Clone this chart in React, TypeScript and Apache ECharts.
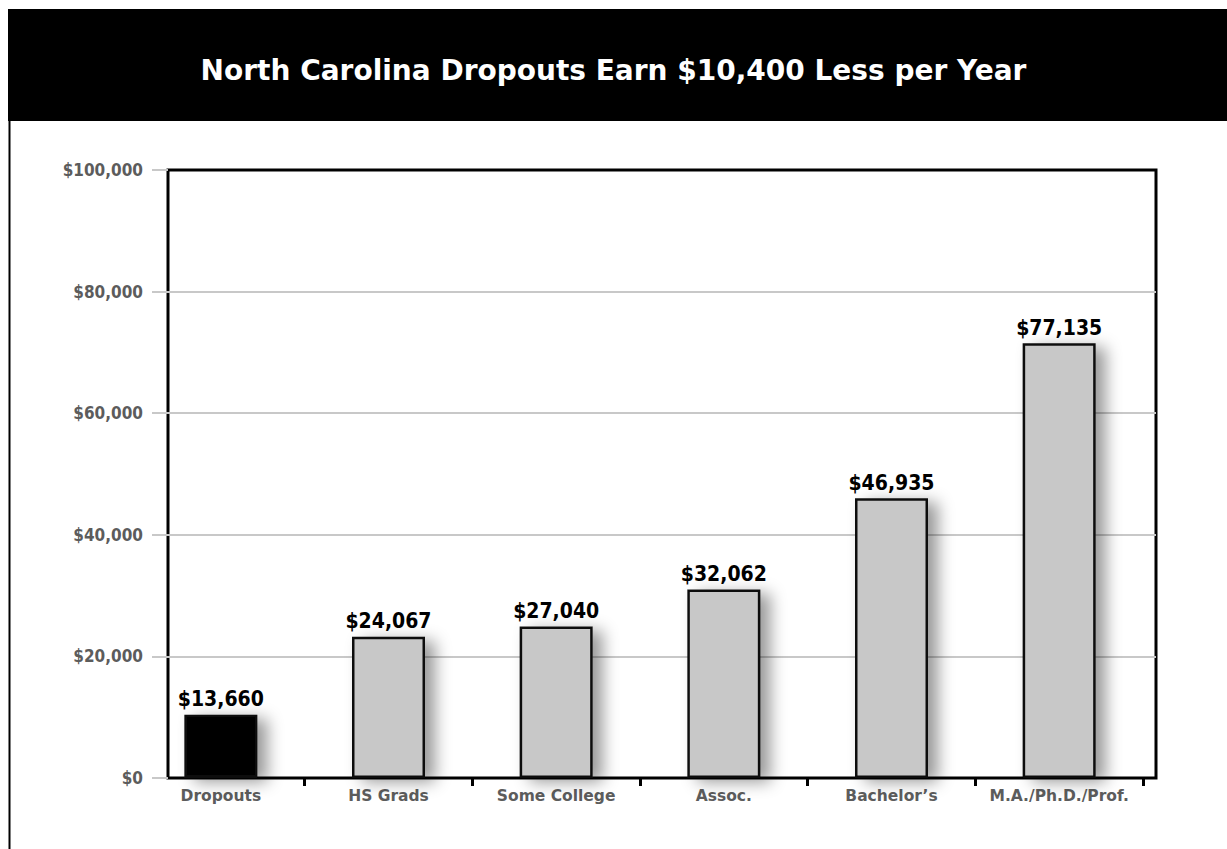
import React, { useEffect, useRef } from "react";
import * as echarts from "echarts";

const titleText = "North Carolina Dropouts Earn $10,400 Less per Year";
const categories = ["Dropouts", "HS Grads", "Some College", "Assoc.", "Bachelor’s", "M.A./Ph.D./Prof."];
// bar heights as drawn in the picture
const barValues = [10400, 23250, 24900, 31000, 46000, 71500];
// value labels as printed above the bars
const valueLabels = ["$13,660", "$24,067", "$27,040", "$32,062", "$46,935", "$77,135"];
const barColors = ["#000000", "#c8c8c8", "#c8c8c8", "#c8c8c8", "#c8c8c8", "#c8c8c8"];
const yMin = 0;
const yMax = 100000;
const yInterval = 20000;

const fmtMoney = (v: number) => "$" + v.toLocaleString("en-US");
const condensed = "'DejaVu Sans Condensed', 'DejaVu Sans', sans-serif";

export default function App() {
  const ref = useRef<HTMLDivElement>(null);
  useEffect(() => {
    document.body.style.margin = "0";
    const chart = echarts.init(ref.current!, undefined, { renderer: "svg" });
    chart.setOption({
      animation: false,
      backgroundColor: "#ffffff",
      title: {
        text: titleText,
        left: "center",
        top: 51,
        textStyle: {
          color: "#ffffff",
          fontSize: 28,
          fontWeight: "bold",
          fontFamily: "DejaVu Sans",
        },
      },
      graphic: [
        {
          type: "rect",
          shape: { x: 8, y: 9, width: 1219, height: 112 },
          style: { fill: "#000000" },
          z: -10,
        },
        {
          type: "line",
          shape: { x1: 9.5, y1: 120, x2: 9.5, y2: 849 },
          style: { stroke: "#000000", lineWidth: 2 },
        },
      ],
      grid: [
        {
          left: 168,
          right: 71,
          top: 170,
          bottom: 71,
          show: true,
          borderColor: "#000000",
          borderWidth: 3,
          backgroundColor: "transparent",
        },
        { left: 137, right: 84, top: 170, bottom: 71 },
      ],
      xAxis: [
        { type: "category", gridIndex: 0, data: categories, show: false },
        {
          type: "category",
          gridIndex: 1,
          data: categories,
          axisLine: { show: false },
          axisTick: {
            show: true,
            interval: (index: number) => index !== 0,
            length: 8,
            lineStyle: { color: "#000000", width: 3 },
          },
          axisLabel: {
            interval: 0,
            margin: 10,
            color: "#5c5c5c",
            fontSize: 15.5,
            fontWeight: "bold",
            fontFamily: "DejaVu Sans",
          },
        },
      ],
      yAxis: [
        {
          type: "value",
          gridIndex: 0,
          min: yMin,
          max: yMax,
          interval: yInterval,
          axisLine: { show: false },
          axisTick: { show: true, length: 16, lineStyle: { color: "#c8c8c8", width: 2 } },
          splitLine: {
            show: true,
            showMinLine: false,
            showMaxLine: false,
            lineStyle: { color: "#c8c8c8", width: 2 },
          },
          axisLabel: {
            margin: 25,
            color: "#5c5c5c",
            fontSize: 17,
            fontWeight: "bold",
            fontFamily: condensed,
            formatter: (v: number) => fmtMoney(v),
          },
        },
        { type: "value", gridIndex: 1, min: yMin, max: yMax, interval: yInterval, show: false },
      ],
      series: [
        {
          type: "bar",
          xAxisIndex: 1,
          yAxisIndex: 1,
          barWidth: 73,
          data: barValues.map((v, i) => ({
            value: v,
            itemStyle: { color: barColors[i] },
          })),
          itemStyle: {
            borderColor: "#111111",
            borderWidth: 2.5,
            shadowBlur: 16,
            shadowColor: "rgba(0,0,0,0.4)",
            shadowOffsetX: 10,
            shadowOffsetY: 4,
          },
          label: {
            show: true,
            position: "top",
            distance: 5,
            color: "#000000",
            fontSize: 21,
            fontWeight: "bold",
            fontFamily: condensed,
            formatter: (p: any) => valueLabels[p.dataIndex],
          },
        },
      ],
    });
    return () => chart.dispose();
  }, []);
  return <div ref={ref} style={{ width: 1227, height: 849 }} />;
}
